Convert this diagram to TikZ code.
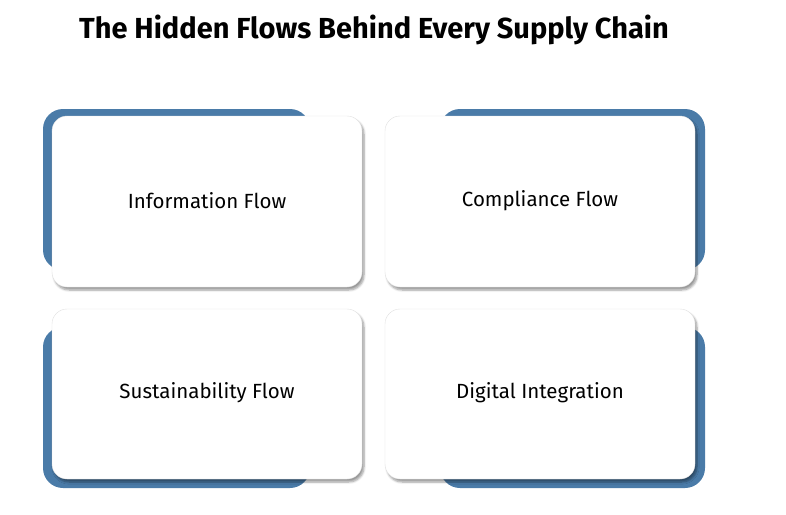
\documentclass[tikz,border=0pt]{standalone}
\usepackage{fontspec}
\setmainfont{Fira Sans}
\usetikzlibrary{shadows.blur}
\definecolor{accent}{HTML}{4A7BA8}
\begin{document}
\begin{tikzpicture}[x=1pt,y=-1pt,
  back/.style={fill=accent,rounded corners=20pt},
  card/.style={fill=white,draw=black!12,rounded corners=15pt,blur shadow={shadow xshift=2pt,shadow yshift=-3pt,shadow blur steps=6,shadow opacity=40}},
  lbl/.style={font=\fontsize{20.5}{24}\selectfont,text=black}]
\useasboundingbox (0,0) rectangle (786,514);
\node[font=\bfseries\fontsize{29}{34}\selectfont] (title) at (374,30) {The Hidden Flows Behind Every Supply Chain};
% back shapes
\fill[back] (43,109) rectangle (310,270);
\fill[back] (440,109) rectangle (705,270);
\fill[back] (43,327) rectangle (310,488);
\fill[back] (440,327) rectangle (705,488);
% cards
\path[card] (52,116) rectangle (362,287);
\path[card] (385,116) rectangle (695,287);
\path[card] (52,309) rectangle (362,479);
\path[card] (385,309) rectangle (695,479);
\node[lbl] (a) at (207,201) {Information Flow};
\node[lbl] (b) at (540,201) {Compliance Flow};
\node[lbl] (c) at (207,393) {Sustainability Flow};
\node[lbl] (d) at (540,393) {Digital Integration};
\end{tikzpicture}
\end{document}
